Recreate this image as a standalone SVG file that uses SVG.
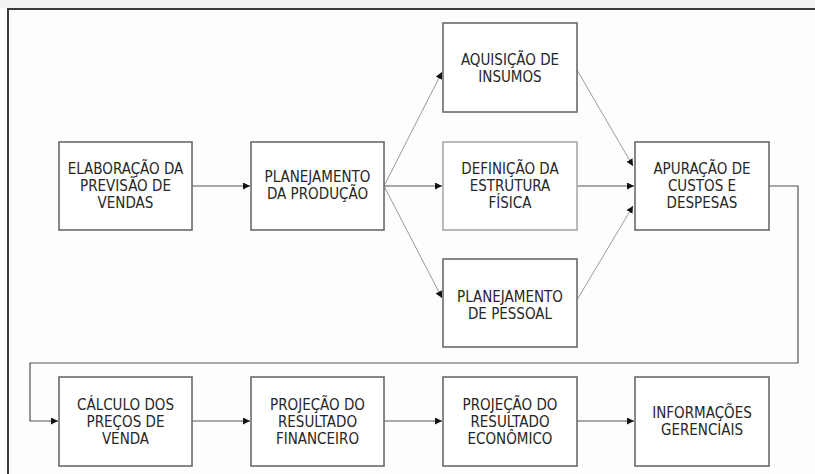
<svg xmlns="http://www.w3.org/2000/svg" width="815" height="474" viewBox="0 0 815 474">
<defs>
<style>
.box{fill:#ffffff;stroke:#6a6a6a;stroke-width:1.6}
.light{stroke:#a8a8a8}
.t{font-family:"DejaVu Sans Condensed","DejaVu Sans",sans-serif;font-size:15px;fill:#262626;text-anchor:middle}
.c{fill:none;stroke:#555555;stroke-width:1.2}
.d{fill:none;stroke:#9a9a9a;stroke-width:1}
</style>
<marker id="ah" markerWidth="8" markerHeight="8" refX="7" refY="3.5" orient="auto" markerUnits="userSpaceOnUse">
<path d="M0,0 L7,3.5 L0,7 Z" fill="#111111"/>
</marker>
</defs>
<rect x="0" y="0" width="815" height="474" fill="#fdfdfd"/>
<rect x="0" y="0" width="815" height="8" fill="#f3f3f3"/>
<path d="M8,474 L8,9 L815,9" fill="none" stroke="#3a3a3a" stroke-width="2"/>

<g id="connectors">
<path class="c" d="M192,186 L250,186" marker-end="url(#ah)"/>
<path class="d" d="M384,186 L442,72" marker-end="url(#ah)"/>
<path class="c" d="M384,186 L442,186" marker-end="url(#ah)"/>
<path class="d" d="M384,186 L442,298" marker-end="url(#ah)"/>
<path class="d" d="M577,70 L633,166" marker-end="url(#ah)"/>
<path class="c" d="M577,186 L634,186" marker-end="url(#ah)"/>
<path class="d" d="M577,300 L633,206" marker-end="url(#ah)"/>
<path class="c" d="M769,186 L798,186 L798,363 L30,363 L30,421 L58,421" marker-end="url(#ah)"/>
<path class="c" d="M192,421 L250,421" marker-end="url(#ah)"/>
<path class="c" d="M384,421 L442,421" marker-end="url(#ah)"/>
<path class="c" d="M577,421 L634,421" marker-end="url(#ah)"/>
</g>

<g id="n1"><rect class="box" x="59" y="142" width="133" height="88"/>
<text class="t"><tspan x="125.5" y="174">ELABORAÇÃO DA</tspan><tspan x="125.5" y="191">PREVISÃO DE</tspan><tspan x="125.5" y="208">VENDAS</tspan></text></g>

<g id="n2"><rect class="box" x="251" y="142" width="133" height="88"/>
<text class="t"><tspan x="317.5" y="182">PLANEJAMENTO</tspan><tspan x="317.5" y="199">DA PRODUÇÃO</tspan></text></g>

<g id="n3"><rect class="box" x="443" y="23" width="134" height="89"/>
<text class="t"><tspan x="510" y="65">AQUISIÇÃO DE</tspan><tspan x="510" y="82">INSUMOS</tspan></text></g>

<g id="n4"><rect class="box light" x="443" y="142" width="134" height="88"/>
<text class="t"><tspan x="510" y="174">DEFINIÇÃO DA</tspan><tspan x="510" y="191">ESTRUTURA</tspan><tspan x="510" y="208">FÍSICA</tspan></text></g>

<g id="n5"><rect class="box" x="443" y="259" width="134" height="88"/>
<text class="t"><tspan x="510" y="302">PLANEJAMENTO</tspan><tspan x="510" y="319">DE PESSOAL</tspan></text></g>

<g id="n6"><rect class="box" x="635" y="142" width="134" height="88"/>
<text class="t"><tspan x="702" y="174">APURAÇÃO DE</tspan><tspan x="702" y="191">CUSTOS E</tspan><tspan x="702" y="208">DESPESAS</tspan></text></g>

<g id="n7"><rect class="box" x="59" y="377" width="133" height="89"/>
<text class="t"><tspan x="125.5" y="410">CÁLCULO DOS</tspan><tspan x="125.5" y="427">PREÇOS DE</tspan><tspan x="125.5" y="444">VENDA</tspan></text></g>

<g id="n8"><rect class="box" x="251" y="377" width="133" height="89"/>
<text class="t"><tspan x="317.5" y="410">PROJEÇÃO DO</tspan><tspan x="317.5" y="427">RESULTADO</tspan><tspan x="317.5" y="444">FINANCEIRO</tspan></text></g>

<g id="n9"><rect class="box" x="443" y="377" width="134" height="89"/>
<text class="t"><tspan x="510" y="410">PROJEÇÃO DO</tspan><tspan x="510" y="427">RESULTADO</tspan><tspan x="510" y="444">ECONÔMICO</tspan></text></g>

<g id="n10"><rect class="box" x="635" y="377" width="134" height="89"/>
<text class="t"><tspan x="702" y="418">INFORMAÇÕES</tspan><tspan x="702" y="435">GERENCIAIS</tspan></text></g>
</svg>
